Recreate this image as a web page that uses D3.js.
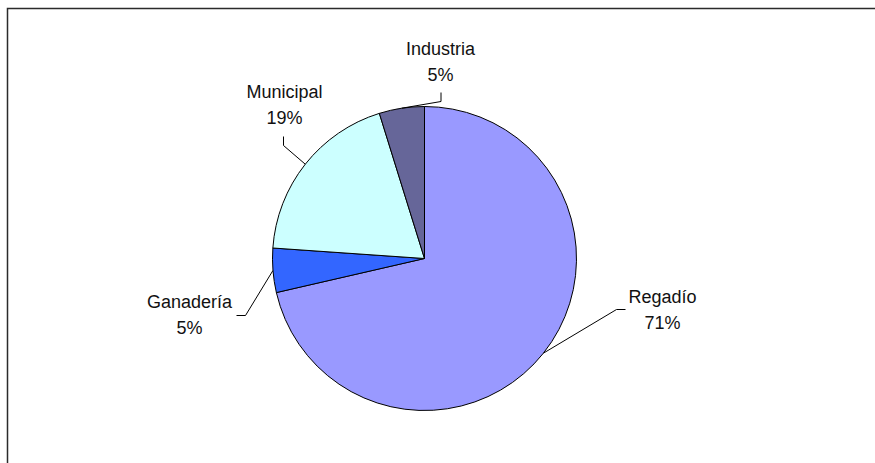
<!DOCTYPE html>
<html>
<head>
<meta charset="utf-8">
<script src="https://cdn.jsdelivr.net/npm/d3@7"></script>
<style>
  body { margin: 0; background: #fff; }
  svg { display: block; }
  .label { font-family: "Liberation Sans", Arial, sans-serif; font-size: 18px; fill: #111; }
</style>
</head>
<body>
<svg id="chart"></svg>
<script>
// data (share of water use)
const categories = ["Regadío", "Ganadería", "Municipal", "Industria"];
const values = [71.4, 4.7, 19.1, 4.8];
const colors = ["#9999FF", "#3366FF", "#CCFFFF", "#666699"];

// label layout, offsets from pie centre: text centre x, first baseline y,
// leader elbow and leader end
const labelLayout = [
    {tx: 238, ty: 44, elbow: [192, 51], end: [201, 51]},
    {tx: -235, ty: 49, elbow: [-179, 57], end: [-188, 57]},
    {tx: -140, ty: -161, elbow: [-141, -113], end: [-141, -122]},
    {tx: 16, ty: -204, elbow: [16.5, -157], end: [16.5, -166]}
];

const svg_size = {width: 875, height: 463};
const center = {x: 424.5, y: 258.5};
const radius = 152;
const lineGap = 26;

const svg = d3.select("#chart")
    .attr("width", svg_size.width)
    .attr("height", svg_size.height);

// chart frame (only top and left edges are in view)
svg.append("path")
    .attr("d", `M7.5,${svg_size.height} V8.5 H${svg_size.width}`)
    .attr("fill", "none")
    .attr("stroke", "#2b2b2b")
    .attr("stroke-width", 1.5);

const data = categories.map((c, i) => ({name: c, value: values[i], color: colors[i], layout: labelLayout[i]}));
const total = d3.sum(values);
const pct = d3.format(".0%");

const pie = d3.pie().sort(null).value(d => d.value);
const arc = d3.arc().innerRadius(0).outerRadius(radius);
const arcs = pie(data);

const g = svg.append("g")
    .attr("transform", `translate(${center.x},${center.y})`);

g.selectAll("path.slice")
    .data(arcs)
    .join("path")
    .attr("class", "slice")
    .attr("d", arc)
    .attr("fill", d => d.data.color)
    .attr("stroke", "#000")
    .attr("stroke-width", 1);

// leader lines from the middle of each slice's rim
g.selectAll("path.leader")
    .data(arcs)
    .join("path")
    .attr("class", "leader")
    .attr("fill", "none")
    .attr("stroke", "#000")
    .attr("stroke-width", 1)
    .attr("d", d => {
        const mid = (d.startAngle + d.endAngle) / 2;
        const sx = radius * Math.sin(mid), sy = -radius * Math.cos(mid);
        const l = d.data.layout;
        return d3.line()([[sx, sy], l.elbow, l.end]);
    });

const labels = g.selectAll("text.label")
    .data(arcs)
    .join("text")
    .attr("class", "label")
    .attr("text-anchor", "middle");

labels.append("tspan")
    .attr("x", d => d.data.layout.tx)
    .attr("y", d => d.data.layout.ty)
    .text(d => d.data.name);
labels.append("tspan")
    .attr("x", d => d.data.layout.tx)
    .attr("y", d => d.data.layout.ty + lineGap)
    .text(d => pct(d.data.value / total));
</script>
</body>
</html>
